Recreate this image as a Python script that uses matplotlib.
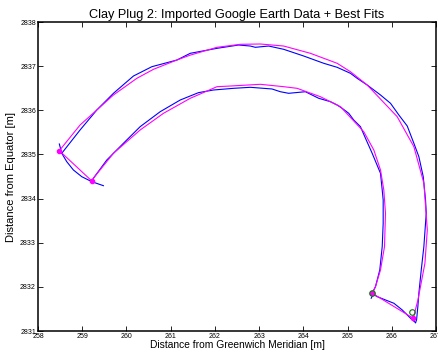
# Clay Plug 2: imported Google Earth data with the fitted outline
import matplotlib
matplotlib.use("Agg")
from matplotlib import pyplot as plt
import numpy as np

plt.rcParams['font.family'] = ['Liberation Sans', 'DejaVu Sans']

# Google Earth data (blue)
outer_x = [258.537, 258.951, 259.330, 259.706, 260.159, 260.575, 261.142, 261.443,
           262.048, 262.537, 262.802, 262.915, 263.216, 263.556, 264.009, 264.462,
           264.765, 265.067, 265.218, 265.445, 265.746, 265.973, 266.161, 266.351,
           266.501, 266.614, 266.713, 266.765, 266.781, 266.727, 266.668, 266.614,
           266.591, 266.562, 266.539]
outer_y = [2835.026, 2835.554, 2836.007, 2836.385, 2836.777, 2836.988, 2837.139, 2837.291,
           2837.404, 2837.479, 2837.456, 2837.427, 2837.456, 2837.382, 2837.230, 2837.065,
           2836.974, 2836.838, 2836.725, 2836.573, 2836.347, 2836.158, 2835.894, 2835.644,
           2835.253, 2834.949, 2834.496, 2833.968, 2833.667, 2832.911, 2832.383, 2831.855,
           2831.551, 2831.250, 2831.189]

rcap_x = [266.539, 266.426, 266.238, 266.048, 265.860, 265.672, 265.581, 265.536]
rcap_y = [2831.189, 2831.289, 2831.477, 2831.629, 2831.703, 2831.778, 2831.833, 2831.742]

inner_x = [265.558, 265.633, 265.730, 265.785, 265.807, 265.807, 265.785, 265.746,
           265.558, 265.407, 265.293, 265.141, 265.028, 264.879, 264.765, 264.614,
           264.349, 264.047, 263.669, 263.481, 263.293, 262.802, 262.424, 261.970,
           261.630, 261.216, 260.763, 260.310, 259.932, 259.556, 259.252,
           259.216]
inner_y = [2831.855, 2832.005, 2832.383, 2832.911, 2833.441, 2833.968, 2834.195, 2834.573,
           2835.026, 2835.366, 2835.629, 2835.780, 2835.932, 2836.045, 2836.120, 2836.195,
           2836.272, 2836.421, 2836.385, 2836.421, 2836.483, 2836.521, 2836.498, 2836.460,
           2836.400, 2836.233, 2835.968, 2835.629, 2835.253, 2834.874, 2834.460,
           2834.383]

lcap_x = [258.482, 258.537, 258.650, 258.800, 258.990, 259.216, 259.479]
lcap_y = [2835.237, 2835.026, 2834.836, 2834.648, 2834.496, 2834.383, 2834.292]

# best fits (magenta)
fit_out_x = [258.482, 258.951, 259.330, 259.706, 260.236, 260.612, 261.142, 261.443,
             262.048, 262.575, 263.028, 263.556, 264.161, 264.765, 265.067, 265.445,
             266.124, 266.501, 266.728, 266.805, 266.751, 266.593, 266.487]
fit_out_y = [2835.085, 2835.667, 2836.007, 2836.347, 2836.725, 2836.929, 2837.140, 2837.250,
             2837.427, 2837.495, 2837.502, 2837.456, 2837.291, 2837.065, 2836.874, 2836.573,
             2835.855, 2835.176, 2834.347, 2833.289, 2832.535, 2831.704, 2831.289]

fit_in_x = [259.216, 259.252, 259.706, 260.310, 260.838, 261.443, 262.048, 262.349,
            263.028, 263.556, 263.859, 264.387, 264.840, 265.368, 265.595, 265.746,
            265.821, 265.859, 265.837, 265.746, 265.633, 265.558]
fit_in_y = [2834.399, 2834.460, 2835.026, 2835.554, 2835.932, 2836.272, 2836.535, 2836.550,
            2836.589, 2836.535, 2836.498, 2836.308, 2836.082, 2835.515, 2835.101, 2834.648,
            2834.195, 2833.667, 2832.911, 2832.383, 2832.005, 2831.855]

# corner points of the fit
corner_x = [258.482, 259.216, 265.558, 266.487]
corner_y = [2835.085, 2834.399, 2831.855, 2831.289]

# end points from the data
end_x = [265.558, 266.46]
end_y = [2831.855, 2831.42]

fig = plt.figure(figsize=(4.39, 3.58), dpi=100)
ax = fig.add_axes([0.0866, 0.0754, 0.9064, 0.8631])

blue = '#0000ff'
mag = '#ff00ff'
ax.plot(outer_x, outer_y, color=blue, lw=0.8)
ax.plot(rcap_x, rcap_y, color=blue, lw=0.8)
ax.plot(inner_x, inner_y, color=blue, lw=0.8)
ax.plot(lcap_x, lcap_y, color=blue, lw=0.8)

ax.plot(fit_out_x, fit_out_y, color=mag, lw=0.8)
ax.plot(fit_in_x, fit_in_y, color=mag, lw=0.8)
ax.plot(corner_x[0:2], corner_y[0:2], color=mag, lw=0.8)
ax.plot(corner_x[2:4], corner_y[2:4], color=mag, lw=0.8)
ax.plot(corner_x, corner_y, 'o', color=mag, ms=3, mec=mag)
ax.plot(end_x, end_y, 'o', mfc='none', mec='#008000', ms=4, mew=0.8)

ax.set_xlim(258, 267)
ax.set_ylim(2831, 2838)
ax.set_xticks(np.arange(258, 268))
ax.set_yticks(np.arange(2831, 2839))
ax.ticklabel_format(useOffset=False, style='plain')
ax.tick_params(direction='in', length=3.5, width=0.6, labelsize=5,
               top=True, right=True, pad=1.5)
for s in ax.spines.values():
    s.set_linewidth(1.1)

ax.set_title("Clay Plug 2: Imported Google Earth Data + Best Fits", fontsize=9.2, pad=3)
ax.set_xlabel("Distance from Greenwich Meridian [m]", fontsize=7.4, labelpad=0)
ax.set_ylabel("Distance from Equator [m]", fontsize=8, labelpad=3)

fig.savefig("out.png", dpi=100)
